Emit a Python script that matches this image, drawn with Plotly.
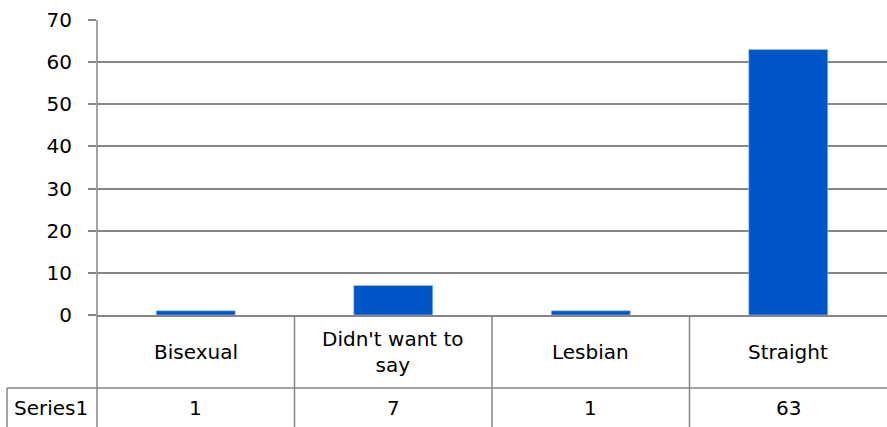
import plotly.graph_objects as go

categories = ["Bisexual", "Didn't want to say", "Lesbian", "Straight"]
category_labels = ["Bisexual", "Didn't want to<br>say", "Lesbian", "Straight"]
series_name = "Series1"
values = [1, 7, 1, 63]
y_ticks = [0, 10, 20, 30, 40, 50, 60, 70]

GRID = "#868686"
BAR = "#0055c8"
FONT = "DejaVu Sans"
FS = 20

W, H = 887, 427
L, R, T, B = 97, 0, 20, 112
plot_w = W - L - R
plot_h = H - T - B


def py(pixel_y):
    return (H - B - pixel_y) / plot_h


def px(pixel_x):
    return (pixel_x - L) / plot_w


fig = go.Figure()
fig.add_trace(go.Bar(
    x=categories, y=values, name=series_name,
    marker=dict(color=BAR, line=dict(color="#a9c4ee", width=0.6)),
    hoverinfo="skip",
))

row1_y = 388
shapes = []
line = dict(color=GRID, width=1.5)
# y-axis line extended through the table
shapes.append(dict(type="line", xref="paper", yref="paper", x0=0, x1=0, y0=1, y1=py(H + 2), line=line))
# table horizontal line
shapes.append(dict(type="line", xref="paper", yref="paper", x0=px(7), x1=1, y0=py(row1_y), y1=py(row1_y), line=line))
# series label cell left border
shapes.append(dict(type="line", xref="paper", yref="paper", x0=px(7), x1=px(7), y0=py(row1_y), y1=py(H + 2), line=line))
n = len(categories)
for k in range(1, n):
    shapes.append(dict(type="line", xref="paper", yref="paper", x0=k / n, x1=k / n, y0=0, y1=py(H + 2), line=line))

annotations = []
for c, lab, v in zip(categories, category_labels, values):
    annotations.append(dict(x=c, xref="x", y=py(352), yref="paper", text=lab, showarrow=False,
                            font=dict(family=FONT, size=FS, color="black"), xanchor="center", yanchor="middle"))
    annotations.append(dict(x=c, xref="x", y=py(408), yref="paper", text=str(v), showarrow=False,
                            font=dict(family=FONT, size=FS, color="black"), xanchor="center", yanchor="middle"))
annotations.append(dict(x=px(51), xref="paper", y=py(408), yref="paper", text=series_name, showarrow=False,
                        font=dict(family=FONT, size=FS, color="black"), xanchor="center", yanchor="middle"))

fig.update_layout(
    width=W, height=H,
    margin=dict(l=L, r=R, t=T, b=B, pad=0),
    paper_bgcolor="white", plot_bgcolor="white",
    showlegend=False,
    bargap=0.6,
    font=dict(family=FONT, size=FS, color="black"),
    shapes=shapes,
    annotations=annotations,
    xaxis=dict(showticklabels=False, ticks="", showgrid=False, showline=True, linecolor=GRID, linewidth=1.5,
               zeroline=False, fixedrange=True),
    yaxis=dict(range=[0, 70], tickvals=y_ticks, showgrid=True, gridcolor=GRID, gridwidth=1.5,
               ticks="outside", ticklen=8, tickcolor=GRID, tickwidth=1.5, showline=False,
               zeroline=False, ticklabelstandoff=12, tickfont=dict(family=FONT, size=FS, color="black"),
               fixedrange=True),
)

fig.write_html("out.html")
